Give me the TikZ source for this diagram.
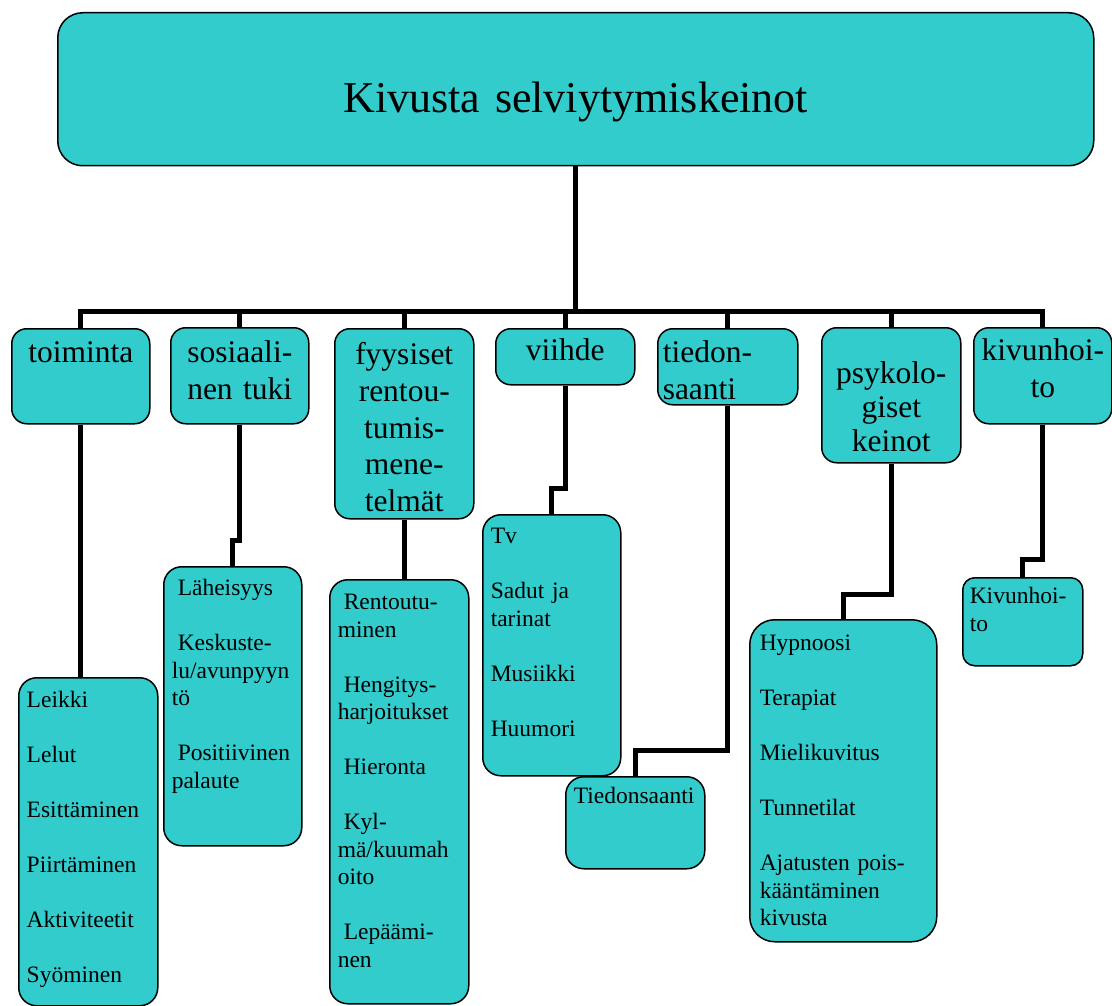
\documentclass[tikz,border=0pt]{standalone}
\usepackage{fontspec}
\setmainfont{Liberation Serif}
\usepackage{tikz}
\definecolor{boxcol}{HTML}{33CCCC}
\newcommand{\titlefont}{\fontsize{44}{50}\selectfont}
\newcommand{\catfont}{\fontsize{31.5}{36.7}\selectfont}
\newcommand{\itemfont}{\fontsize{23.5}{27.5}\selectfont}
\newcommand{\ind}{\hspace*{6pt}}
\newcommand{\gap}{\\[27.5pt]}
\hyphenpenalty=10000

\begin{document}
\begin{tikzpicture}[x=1pt,y=-1pt,
  box/.style={draw,line width=1.5pt,fill=boxcol,anchor=north west,inner ysep=0pt},
  main/.style={box,rounded corners=25pt,font=\titlefont,align=center,inner xsep=0pt},
  cat/.style={box,rounded corners=15pt,font=\catfont,align=center,inner xsep=4pt},
  item/.style={box,rounded corners=18pt,font=\itemfont,align=left,inner xsep=8pt},
  conn/.style={line width=5pt}]
\useasboundingbox (0,0) rectangle (1112,1006);

\node[main,text width=1036pt,text height=100pt,text depth=53pt] (title) at (57,12) {Kivusta selviytymiskeinot};
\coordinate (hub) at (577,311);

\node[cat,text width=130pt,text height=34pt,text depth=61pt] (toiminta) at (11,328) {toiminta};
\node[cat,text width=130pt,text height=35pt,text depth=61pt] (sosiaalinen) at (170,327) {sosiaali-\\nen tuki};
\node[cat,text width=131pt,text height=36pt,text depth=154pt] (fyysiset) at (334,328) {fyysiset\\rentou-\\tumis-\\mene-\\telmät};
\node[cat,text width=131pt,text height=32pt,text depth=24pt] (viihde) at (495,328) {viihde};
\node[cat,align=left,inner xsep=5pt,text width=130pt,text height=34pt,text depth=42pt] (tiedonsaanti) at (657,328) {tiedon-\\saanti};
\node[cat,font={\fontsize{31.5}{34}\selectfont},text width=131pt,text height=56pt,text depth=79pt] (psyk) at (821,327) {psykolo-\\giset\\keinot};
\node[cat,text width=130pt,text height=33pt,text depth=63pt] (kivunhoito) at (973,327) {kivunhoi-\\to};

\node[item,text width=123pt,text height=30pt,text depth=298pt] (leikki) at (18,677) {Leikki\gap Lelut\gap Esittäminen\gap Piirtäminen\gap Aktiviteetit\gap Syöminen};
\node[item,text width=122pt,text height=29pt,text depth=250pt] (laheisyys) at (163,566) {\ind Läheisyys\gap\ind Keskuste-\\lu/avunpyyn\\tö\gap\ind Positiivinen\\palaute};
\node[item,text width=123pt,text height=30pt,text depth=394pt] (rentoutuminen) at (329,579) {\ind Rentoutu-\\minen\gap\ind Hengitys-\\harjoitukset\gap\ind Hieronta\gap\ind Kyl-\\mä/kuumah\\oito\gap\ind Lepäämi-\\nen};
\node[item,text width=122pt,text height=29pt,text depth=232pt] (tv) at (482,514) {Tv\gap Sadut ja\\tarinat\gap Musiikki\gap Huumori};
\node[item,text width=123pt,text height=27pt,text depth=65pt] (tieto) at (565,776) {Tiedonsaanti};
\node[item,rounded corners=25pt,inner xsep=10pt,text width=167pt,text height=31pt,text depth=291pt] (hypnoosi) at (749,619) {Hypnoosi\gap Terapiat\gap Mielikuvitus\gap Tunnetilat\gap Ajatusten pois-\\kääntäminen\\kivusta};
\node[item,rounded corners=12pt,inner xsep=7pt,text width=106pt,text height=26pt,text depth=62pt] (kivu) at (962,577) {Kivunhoi-\\to};

\draw[conn] (title.south) -- (title.south |- hub);
\draw[conn] (toiminta.north) |- (hub) -| (kivunhoito.north);
\foreach \n in {sosiaalinen,fyysiset,viihde,tiedonsaanti,psyk}
  \draw[conn] (\n.north) -- (\n.north |- hub);

\draw[conn] (toiminta.south) -- (toiminta.south |- leikki.north);
\draw[conn] (sosiaalinen.south) -- (sosiaalinen.south |- 0,540) -| (laheisyys.north);
\draw[conn] (fyysiset.south) -- (fyysiset.south |- rentoutuminen.north);
\draw[conn] (viihde.south) -- (viihde.south |- 0,488) -| (tv.north);
\draw[conn] (tiedonsaanti.south) -- (tiedonsaanti.south |- 0,750) -| (tieto.north);
\draw[conn] (psyk.south) -- (psyk.south |- 0,594) -| (hypnoosi.north);
\draw[conn] (kivunhoito.south) -- (kivunhoito.south |- 0,559) -| (kivu.north);
\end{tikzpicture}
\end{document}
